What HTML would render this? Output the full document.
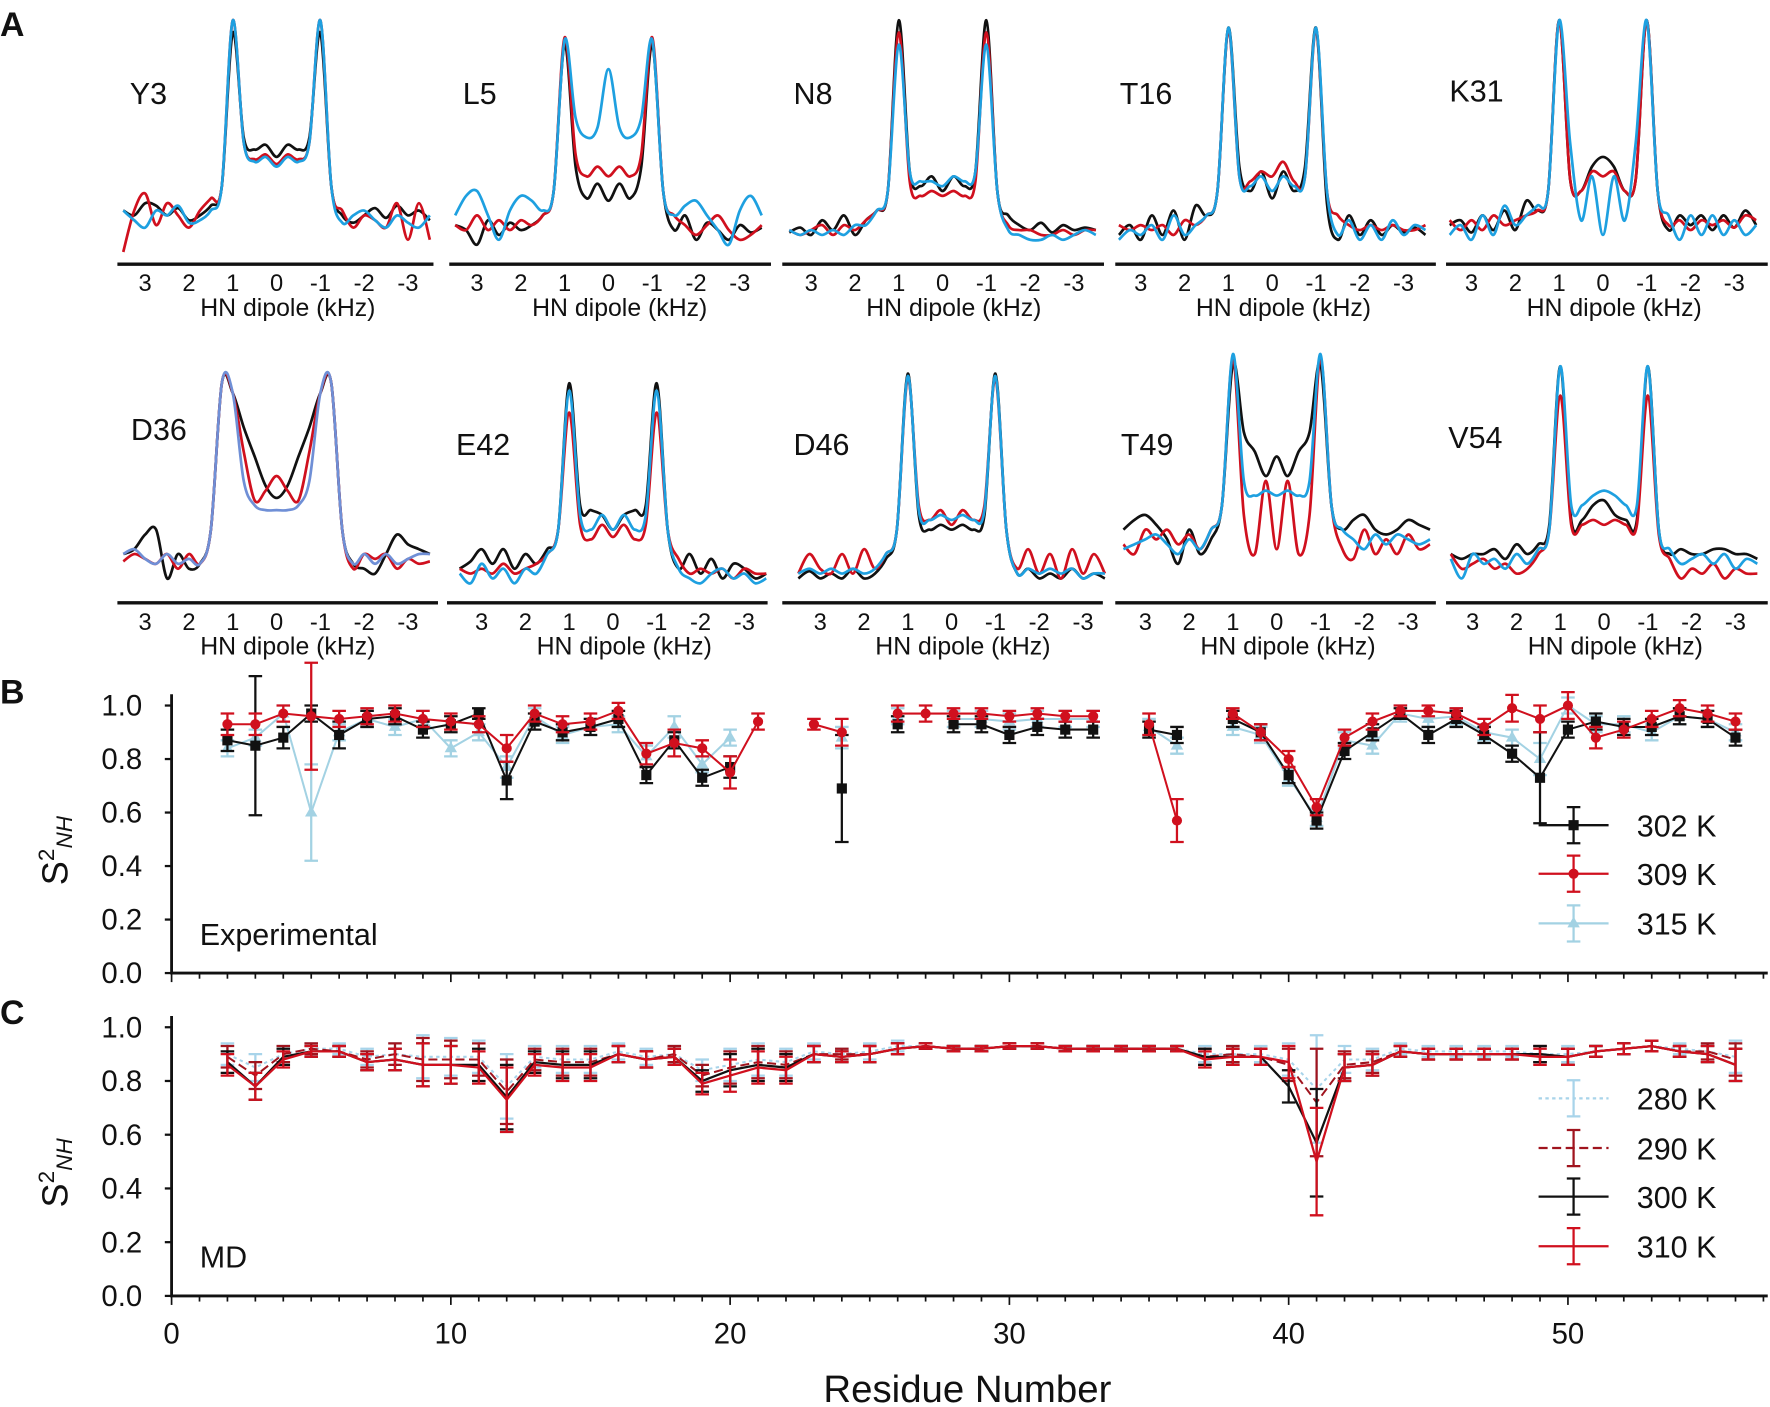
<!DOCTYPE html>
<html><head><meta charset="utf-8"><style>
html,body{margin:0;padding:0;background:#fff}
svg{display:block}
text{font-family:"Liberation Sans","DejaVu Sans",sans-serif;fill:#111}
</style></head><body>
<svg id="fig" xmlns="http://www.w3.org/2000/svg" width="1770" height="1407" viewBox="0 0 1568 1246.4">
<rect width="1568" height="1246.4" fill="#fff"/>
<text x="0" y="32" font-size="30" font-weight="bold">A</text>
<text x="0" y="623" font-size="30" font-weight="bold">B</text>
<text x="0" y="907" font-size="30" font-weight="bold">C</text>
<g id="spectra"></g><g id="pb"></g><g id="pc"></g>
</svg>
<script>
// ---------- Panel A data (intensity, k = 3.5 .. -3.5 step 0.25) ----------
const kHz = [3.5,3.25,3,2.75,2.5,2.25,2,1.75,1.5,1.25,1,0.75,0.5,0.25,0,-0.25,-0.5,-0.75,-1,-1.25,-1.5,-1.75,-2,-2.25,-2.5,-2.75,-3,-3.25,-3.5];
const panelNames = ["Y3","L5","N8","T16","K31","D36","E42","D46","T49","V54"];
const specBlack = [
[0.22,0.2,0.25,0.24,0.2,0.23,0.18,0.2,0.24,0.32,0.95,0.52,0.47,0.49,0.44,0.49,0.47,0.52,0.95,0.32,0.2,0.17,0.2,0.23,0.19,0.24,0.2,0.22,0.18],
[0.16,0.14,0.08,0.18,0.12,0.17,0.14,0.16,0.2,0.3,0.9,0.4,0.27,0.33,0.26,0.33,0.27,0.4,0.9,0.3,0.14,0.2,0.1,0.17,0.14,0.1,0.16,0.13,0.15],
[0.13,0.15,0.12,0.18,0.14,0.2,0.12,0.18,0.22,0.3,1.0,0.38,0.32,0.36,0.3,0.36,0.32,0.38,1.0,0.3,0.2,0.16,0.14,0.17,0.13,0.16,0.14,0.15,0.14],
[0.12,0.16,0.1,0.2,0.12,0.22,0.1,0.24,0.2,0.3,0.97,0.4,0.3,0.38,0.27,0.38,0.3,0.4,0.97,0.25,0.1,0.2,0.12,0.18,0.12,0.16,0.13,0.15,0.12],
[0.16,0.18,0.13,0.2,0.14,0.22,0.14,0.26,0.22,0.3,1.0,0.35,0.3,0.4,0.44,0.4,0.3,0.35,1.0,0.3,0.14,0.2,0.16,0.2,0.14,0.2,0.15,0.22,0.16],
[0.2,0.22,0.28,0.3,0.1,0.2,0.14,0.16,0.3,0.9,0.86,0.72,0.6,0.48,0.43,0.48,0.6,0.72,0.86,0.9,0.3,0.16,0.14,0.12,0.2,0.28,0.24,0.22,0.2],
[0.14,0.17,0.22,0.16,0.22,0.14,0.2,0.16,0.22,0.3,0.9,0.4,0.38,0.36,0.3,0.36,0.38,0.4,0.9,0.3,0.14,0.2,0.12,0.18,0.1,0.16,0.14,0.1,0.12],
[0.1,0.13,0.1,0.12,0.1,0.14,0.1,0.12,0.18,0.3,0.94,0.36,0.3,0.32,0.3,0.32,0.3,0.36,0.94,0.3,0.12,0.14,0.1,0.12,0.1,0.14,0.1,0.12,0.1],
[0.3,0.34,0.36,0.32,0.26,0.16,0.3,0.2,0.26,0.4,0.98,0.7,0.62,0.52,0.6,0.52,0.62,0.7,0.98,0.4,0.3,0.34,0.36,0.3,0.28,0.3,0.34,0.32,0.3],
[0.2,0.18,0.2,0.2,0.22,0.18,0.24,0.2,0.24,0.32,0.97,0.34,0.34,0.4,0.42,0.36,0.34,0.34,0.97,0.3,0.2,0.22,0.2,0.2,0.22,0.22,0.2,0.2,0.18]];
const specRed = [
[0.05,0.22,0.29,0.16,0.25,0.2,0.15,0.22,0.27,0.32,1.0,0.5,0.43,0.45,0.41,0.45,0.43,0.5,1.0,0.32,0.22,0.15,0.2,0.18,0.15,0.25,0.1,0.25,0.1],
[0.16,0.14,0.2,0.14,0.18,0.14,0.18,0.16,0.2,0.3,0.93,0.45,0.36,0.4,0.36,0.4,0.36,0.45,0.93,0.3,0.2,0.16,0.12,0.16,0.2,0.14,0.1,0.12,0.16],
[0.14,0.12,0.14,0.16,0.12,0.16,0.14,0.18,0.22,0.3,0.95,0.34,0.28,0.3,0.28,0.3,0.28,0.34,0.95,0.3,0.16,0.14,0.14,0.12,0.12,0.14,0.12,0.14,0.14],
[0.16,0.14,0.16,0.14,0.16,0.12,0.18,0.16,0.2,0.3,0.96,0.36,0.34,0.38,0.36,0.42,0.34,0.36,0.96,0.3,0.2,0.16,0.14,0.16,0.14,0.16,0.14,0.14,0.16],
[0.18,0.14,0.18,0.14,0.2,0.16,0.18,0.2,0.22,0.3,1.0,0.35,0.3,0.38,0.36,0.38,0.3,0.35,1.0,0.3,0.16,0.18,0.14,0.18,0.16,0.18,0.15,0.2,0.18],
[0.17,0.2,0.18,0.16,0.2,0.14,0.2,0.16,0.3,0.9,0.86,0.62,0.42,0.46,0.52,0.46,0.42,0.62,0.86,0.9,0.3,0.14,0.2,0.18,0.2,0.14,0.18,0.16,0.17],
[0.14,0.12,0.14,0.12,0.16,0.12,0.14,0.16,0.2,0.3,0.78,0.32,0.26,0.32,0.27,0.32,0.26,0.32,0.78,0.3,0.18,0.12,0.14,0.12,0.14,0.1,0.14,0.12,0.12],
[0.12,0.2,0.14,0.12,0.2,0.12,0.22,0.14,0.2,0.3,0.92,0.4,0.34,0.38,0.32,0.38,0.34,0.4,0.92,0.3,0.14,0.22,0.12,0.2,0.1,0.22,0.12,0.2,0.12],
[0.24,0.2,0.3,0.26,0.3,0.24,0.28,0.22,0.3,0.4,1.0,0.36,0.2,0.5,0.22,0.5,0.2,0.36,1.0,0.4,0.22,0.18,0.3,0.2,0.26,0.2,0.28,0.22,0.24],
[0.2,0.14,0.16,0.18,0.14,0.16,0.12,0.14,0.2,0.3,0.85,0.32,0.32,0.34,0.32,0.34,0.32,0.32,0.85,0.28,0.18,0.1,0.14,0.12,0.16,0.1,0.14,0.12,0.12]];
const specBlue = [
[0.22,0.18,0.15,0.22,0.2,0.24,0.17,0.18,0.22,0.32,1.0,0.5,0.42,0.44,0.4,0.44,0.42,0.5,1.0,0.32,0.17,0.2,0.22,0.18,0.15,0.2,0.17,0.15,0.2],
[0.2,0.28,0.3,0.2,0.1,0.22,0.28,0.26,0.22,0.3,0.92,0.6,0.52,0.56,0.8,0.56,0.52,0.6,0.92,0.3,0.2,0.24,0.26,0.2,0.14,0.08,0.22,0.28,0.2],
[0.14,0.12,0.14,0.12,0.14,0.12,0.16,0.16,0.22,0.3,0.9,0.38,0.34,0.34,0.32,0.36,0.34,0.38,0.9,0.3,0.14,0.12,0.1,0.1,0.12,0.1,0.12,0.14,0.12],
[0.1,0.14,0.12,0.16,0.1,0.2,0.12,0.16,0.2,0.3,0.97,0.36,0.32,0.36,0.3,0.36,0.32,0.36,0.97,0.3,0.12,0.18,0.1,0.16,0.1,0.18,0.12,0.16,0.14],
[0.12,0.16,0.1,0.2,0.12,0.24,0.16,0.2,0.24,0.3,1.0,0.5,0.18,0.36,0.12,0.36,0.18,0.5,1.0,0.3,0.2,0.1,0.2,0.12,0.2,0.12,0.18,0.12,0.16],
[0.2,0.22,0.18,0.16,0.2,0.16,0.18,0.16,0.3,0.9,0.86,0.5,0.4,0.38,0.38,0.38,0.4,0.5,0.86,0.9,0.3,0.16,0.2,0.16,0.2,0.16,0.18,0.2,0.2],
[0.12,0.08,0.16,0.1,0.14,0.08,0.14,0.12,0.2,0.3,0.87,0.36,0.3,0.36,0.3,0.36,0.3,0.36,0.87,0.3,0.14,0.1,0.08,0.12,0.14,0.1,0.12,0.08,0.1],
[0.12,0.14,0.12,0.14,0.12,0.14,0.12,0.14,0.2,0.3,0.93,0.38,0.34,0.36,0.34,0.36,0.34,0.38,0.93,0.3,0.12,0.14,0.12,0.14,0.12,0.14,0.1,0.12,0.12],
[0.22,0.24,0.26,0.28,0.24,0.2,0.26,0.22,0.3,0.4,1.02,0.5,0.44,0.46,0.44,0.46,0.44,0.5,1.02,0.4,0.3,0.26,0.22,0.28,0.24,0.28,0.26,0.24,0.26],
[0.18,0.1,0.2,0.16,0.18,0.14,0.2,0.16,0.22,0.3,0.97,0.4,0.4,0.44,0.46,0.44,0.4,0.4,0.97,0.3,0.22,0.16,0.18,0.2,0.16,0.2,0.14,0.18,0.16]];
const kTicks = [3,2,1,0,-1,-2,-3];

// ---------- Panel B data ----------
const residues = [2,3,4,5,6,7,8,9,10,11,12,13,14,15,16,17,18,19,20,21,22,23,24,25,26,27,28,29,30,31,32,33,34,35,36,37,38,39,40,41,42,43,44,45,46,47,48,49,50,51,52,53,54,55,56];
const exp302 = [0.87,0.85,0.88,0.97,0.89,0.95,0.96,0.91,0.93,0.97,0.72,0.94,0.9,0.92,0.95,0.74,0.87,0.73,0.77,null,null,null,0.69,null,0.93,null,0.93,0.93,0.89,0.92,0.91,0.91,null,0.91,0.89,null,0.95,0.9,0.74,0.57,0.83,0.9,0.97,0.89,0.95,0.89,0.82,0.73,0.91,0.94,0.92,0.92,0.96,0.95,0.88];
const err302 = [0.04,0.26,0.04,0.03,0.05,0.03,0.03,0.03,0.03,0.02,0.07,0.03,0.03,0.03,0.03,0.03,0.03,0.03,0.04,0,0,0,0.2,0,0.03,0,0.03,0.03,0.03,0.03,0.03,0.03,0,0.03,0.03,0,0.03,0.03,0.03,0.03,0.03,0.03,0.02,0.03,0.03,0.03,0.03,0.17,0.03,0.03,0.03,0.03,0.03,0.03,0.03];
const exp309 = [0.93,0.93,0.97,0.96,0.95,0.96,0.97,0.95,0.94,0.93,0.84,0.97,0.93,0.94,0.98,0.82,0.86,0.84,0.75,0.94,null,0.93,0.9,null,0.97,0.97,0.97,0.97,0.96,0.97,0.96,0.96,null,0.93,0.57,null,0.97,0.9,0.8,0.62,0.88,0.94,0.98,0.98,0.97,0.92,0.99,0.95,1.0,0.88,0.91,0.95,0.99,0.97,0.94];
const err309 = [0.04,0.04,0.03,0.2,0.03,0.03,0.03,0.03,0.03,0.03,0.05,0.03,0.03,0.03,0.03,0.04,0.05,0.03,0.06,0.03,0,0.02,0.05,0,0.03,0.03,0.02,0.02,0.02,0.02,0.02,0.02,0,0.04,0.08,0,0.02,0.03,0.03,0.03,0.03,0.03,0.02,0.02,0.02,0.03,0.05,0.05,0.05,0.04,0.03,0.03,0.03,0.03,0.03];
const exp315 = [0.84,0.88,0.97,0.6,0.9,0.95,0.92,0.95,0.84,0.9,0.77,0.96,0.89,0.92,0.93,0.81,0.92,0.78,0.88,null,null,null,0.88,null,0.96,null,0.95,0.95,0.94,0.95,0.95,0.95,null,0.92,0.85,null,0.92,0.89,0.73,0.58,0.87,0.85,0.97,0.95,0.96,0.9,0.88,0.8,1.0,0.93,0.93,0.9,0.96,0.95,0.9];
const err315 = [0.03,0.03,0.03,0.18,0.03,0.03,0.03,0.03,0.03,0.03,0.04,0.03,0.03,0.03,0.03,0.04,0.04,0.03,0.03,0,0,0,0.04,0,0.03,0,0.03,0.03,0.03,0.03,0.03,0.03,0,0.03,0.03,0,0.03,0.03,0.03,0.03,0.03,0.03,0.03,0.03,0.03,0.03,0.03,0.06,0.03,0.03,0.03,0.03,0.03,0.03,0.03];

// ---------- Panel C data ----------
const md280 = [0.9,0.85,0.9,0.92,0.92,0.89,0.9,0.89,0.89,0.89,0.78,0.89,0.88,0.88,0.91,0.89,0.9,0.84,0.86,0.88,0.87,0.91,0.9,0.91,0.93,0.93,0.92,0.92,0.93,0.93,0.92,0.92,0.92,0.92,0.92,0.9,0.9,0.9,0.88,0.77,0.88,0.88,0.92,0.91,0.91,0.91,0.91,0.9,0.9,0.91,0.92,0.93,0.92,0.91,0.89];
const md290 = [0.89,0.82,0.9,0.92,0.91,0.88,0.9,0.88,0.88,0.88,0.76,0.88,0.87,0.87,0.9,0.88,0.9,0.82,0.85,0.87,0.86,0.9,0.9,0.9,0.92,0.93,0.92,0.92,0.93,0.93,0.92,0.92,0.92,0.92,0.92,0.89,0.9,0.89,0.86,0.72,0.86,0.87,0.91,0.9,0.9,0.9,0.9,0.9,0.89,0.91,0.92,0.93,0.91,0.91,0.88];
const md300 = [0.87,0.78,0.89,0.91,0.91,0.87,0.88,0.86,0.86,0.86,0.74,0.87,0.86,0.86,0.9,0.88,0.89,0.8,0.84,0.86,0.85,0.9,0.89,0.9,0.92,0.93,0.92,0.92,0.93,0.93,0.92,0.92,0.92,0.92,0.92,0.89,0.89,0.89,0.78,0.57,0.85,0.86,0.91,0.9,0.9,0.9,0.9,0.9,0.89,0.91,0.92,0.93,0.91,0.9,0.86];
const md310 = [0.86,0.78,0.88,0.91,0.91,0.87,0.88,0.86,0.86,0.85,0.73,0.86,0.85,0.85,0.9,0.88,0.89,0.79,0.82,0.85,0.84,0.9,0.89,0.9,0.92,0.93,0.92,0.92,0.93,0.93,0.92,0.92,0.92,0.92,0.92,0.88,0.89,0.89,0.87,0.5,0.85,0.86,0.91,0.9,0.9,0.9,0.9,0.89,0.89,0.91,0.92,0.93,0.91,0.9,0.86];
const mdErr = [0.04,0.05,0.03,0.02,0.02,0.03,0.04,0.08,0.07,0.06,0.12,0.04,0.05,0.05,0.03,0.03,0.03,0.04,0.06,0.06,0.05,0.03,0.02,0.03,0.02,0.01,0.01,0.01,0.01,0.01,0.01,0.01,0.01,0.01,0.01,0.03,0.03,0.03,0.06,0.2,0.05,0.04,0.02,0.02,0.02,0.02,0.02,0.03,0.03,0.02,0.02,0.02,0.02,0.03,0.06];
const yTicks = [0,0.2,0.4,0.6,0.8,1.0];
const xTicks = [0,10,20,30,40,50];

const NS="http://www.w3.org/2000/svg";
function mk(tag,parent,attrs){const e=document.createElementNS(NS,tag);for(const k in attrs)e.setAttribute(k,attrs[k]);parent.appendChild(e);return e;}
function smooth(pts){let d="M"+pts[0][0].toFixed(1)+","+pts[0][1].toFixed(1);
 for(let i=0;i<pts.length-1;i++){const p0=pts[Math.max(0,i-1)],p1=pts[i],p2=pts[i+1],p3=pts[Math.min(pts.length-1,i+2)];
  const c1=[p1[0]+(p2[0]-p0[0])/6,p1[1]+(p2[1]-p0[1])/6],c2=[p2[0]-(p3[0]-p1[0])/6,p2[1]-(p3[1]-p1[1])/6];
  d+="C"+c1[0].toFixed(1)+","+c1[1].toFixed(1)+" "+c2[0].toFixed(1)+","+c2[1].toFixed(1)+" "+p2[0].toFixed(1)+","+p2[1].toFixed(1);}
 return d;}

// ---------- Panel A ----------
const sp=document.getElementById('spectra');
const centers=[245,539,835,1127,1420,245,543,843,1131,1421];
const axStart=[104,398,693,988,1281,104,396,693,988,1281];
const axEnd=[384,683,978,1272,1566,388,680,977,1272,1566];
const labPos=[[115,92],[410,92],[703,92],[992,92],[1284,90],[116,390],[404,403],[703,403],[993,403],[1283,397]];
const blueCols=["#1ea0e0","#1ea0e0","#1ea0e0","#1ea0e0","#1ea0e0","#6f8fd6","#1ea0e0","#1ea0e0","#1ea0e0","#1ea0e0"];
for(let p=0;p<10;p++){
 const row=p<5?0:1, base=row?534:234, top=row?318:18, cx=centers[p], sc=38.8;
 const g=mk('g',sp,{});
 
 
 const xs=k=>cx-k*sc, ys=v=>base-(top-base)*-v;
 const sets=[[specBlack[p],"#111"],[specRed[p],"#d0101e"],[specBlue[p],blueCols[p]]];
 const nm=["black","red","blue"];
 sets.forEach((s,si)=>{const pts=s[0].map((v,i)=>[xs(kHz[i]),ys(v)]);
  const path=mk('path',g,{d:smooth(pts),fill:"none",stroke:s[1],"stroke-width":2.4});
  
  });
 const ax=mk('line',g,{x1:axStart[p],x2:axEnd[p],y1:base,y2:base,stroke:"#111","stroke-width":3});
 
 
 kTicks.forEach(k=>{const t=mk('text',g,{x:xs(k),y:base+24,"font-size":21,"text-anchor":"middle"});t.textContent=String(k);
  
  });
 const at=mk('text',g,{x:cx+10,y:base+46,"font-size":22,"text-anchor":"middle"});at.textContent="HN dipole (kHz)";
 
 
 const lb=mk('text',g,{x:labPos[p][0],y:labPos[p][1],"font-size":27});lb.textContent=panelNames[p];
 
 
}

// ---------- Panels B & C ----------
const X=r=>152+24.74*r;
function axes(g,y0,y1,withXLabels){
 const Y=v=>y0-(y0-y1)*v;
 const l=mk('path',g,{d:`M152,${y1-10}V${y0}H1566`,fill:"none",stroke:"#111","stroke-width":2.5});
 
 
 yTicks.forEach(v=>{mk('line',g,{x1:146,x2:152,y1:Y(v),y2:Y(v),stroke:"#111","stroke-width":2});
  const t=mk('text',g,{x:126,y:Y(v)+9,"font-size":26,"text-anchor":"end"});t.textContent=v.toFixed(1);
  
  });
 for(let r=0;r<=57;r++){mk('line',g,{x1:X(r),x2:X(r),y1:y0,y2:y0+(r%10===0?8:5),stroke:"#111","stroke-width":1.5});}
 if(withXLabels){xTicks.forEach(r=>{const t=mk('text',g,{x:X(r),y:y0+42,"font-size":26,"text-anchor":"middle"});t.textContent=String(r);
  
  });}
 const yl=mk('text',g,{x:0,y:0,"font-size":32,transform:`translate(60,${(y0+y1)/2+10}) rotate(-90)`,"text-anchor":"middle"});
 yl.innerHTML='S<tspan dy="-12" font-size="20">2</tspan><tspan dy="16" font-size="20" font-style="italic">NH</tspan>';
 
 
 return Y;}
function series(g,vals,errs,color,marker,dash,name,Y,sw){
 const sg=mk('g',g,{});
 
 
 let d="",pen=false;
 residues.forEach((r,i)=>{const v=vals[i];if(v===null){pen=false;return;}
  d+=(pen?"L":"M")+X(r).toFixed(1)+","+Y(v).toFixed(1);pen=true;});
 const ln=mk('path',sg,{d:d,fill:"none",stroke:color,"stroke-width":sw,"stroke-dasharray":dash});
 
 
 residues.forEach((r,i)=>{const v=vals[i];if(v===null)return;const e=errs[i],x=X(r);
  if(e>0){mk('path',sg,{d:`M${x},${Y(v+e)}V${Y(v-e)}M${x-6},${Y(v+e)}h12M${x-6},${Y(v-e)}h12`,stroke:color,"stroke-width":2,fill:"none"});}
  if(marker==="sq")mk('rect',sg,{x:x-4.5,y:Y(v)-4.5,width:9,height:9,fill:color});
  else if(marker==="ci")mk('circle',sg,{cx:x,cy:Y(v),r:4.5,fill:color});
  else if(marker==="tr")mk('path',sg,{d:`M${x},${Y(v)-6}l5.5,9.5h-11z`,fill:color});});}
function legend(g,y,color,marker,dash,label){
 const lg=mk('g',g,{});
 
 
 mk('line',lg,{x1:1363,x2:1425,y1:y,y2:y,stroke:color,"stroke-width":2,"stroke-dasharray":dash});
 mk('path',lg,{d:`M1394,${y-16}V${y+16}M1388,${y-16}h12M1388,${y+16}h12`,stroke:color,"stroke-width":2});
 if(marker==="sq")mk('rect',lg,{x:1389.5,y:y-4.5,width:9,height:9,fill:color});
 if(marker==="ci")mk('circle',lg,{cx:1394,cy:y,r:4.5,fill:color});
 if(marker==="tr")mk('path',lg,{d:`M1394,${y-6}l5.5,9.5h-11z`,fill:color});
 const t=mk('text',lg,{x:1450,y:y+10,"font-size":27});t.textContent=label;}

const pb=document.getElementById('pb');
const YB=axes(pb,862,625,false);
series(pb,exp315,err315,"#a3d2e3","tr","",'315k',YB,1.8);
series(pb,exp302,err302,"#111","sq","",'302k',YB,1.8);
series(pb,exp309,err309,"#d0101e","ci","",'309k',YB,1.8);
legend(pb,731,"#111","sq","","302 K");legend(pb,774,"#d0101e","ci","","309 K");legend(pb,818,"#a3d2e3","tr","","315 K");
const te=mk('text',pb,{x:177,y:837,"font-size":27});te.textContent="Experimental";



const pc=document.getElementById('pc');
const YC=axes(pc,1148,910,true);
series(pc,md280,mdErr,"#a8d4ea","","3,3",'280k',YC,1.8);
series(pc,md290,mdErr,"#a0141e","","8,4",'290k',YC,1.8);
series(pc,md300,mdErr,"#111","","",'300k',YC,2);
series(pc,md310,mdErr,"#d0101e","","",'310k',YC,2);
legend(pc,973,"#a8d4ea","","3,3","280 K");legend(pc,1017,"#a0141e","","8,4","290 K");legend(pc,1060,"#111","","","300 K");legend(pc,1104,"#d0101e","","","310 K");
const tm=mk('text',pc,{x:177,y:1123,"font-size":27});tm.textContent="MD";


const xt=mk('text',pc,{x:857,y:1242,"font-size":34,"text-anchor":"middle"});xt.textContent="Residue Number";


</script>
</body></html>
